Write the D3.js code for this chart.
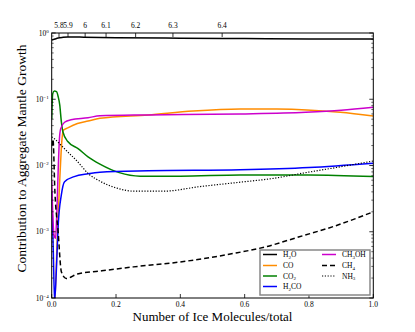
<!DOCTYPE html>
<html><head><meta charset="utf-8">
<script src="https://cdn.jsdelivr.net/npm/d3@7"></script>
<style>body{margin:0;background:#fff}svg{display:block}text{font-family:"Liberation Serif","DejaVu Serif",serif}</style>
</head><body><svg id="c" width="415" height="332"></svg>
<script>
// ---- data ----
const seriesNames = ["H2O","CO","CO2","H2CO","CH3OH","CH4","NH3"];
const h2oX = [0,0.01,0.02,0.035,0.05,0.1,0.2,0.4,0.6,0.8,1.0];
const h2oY = [0.78,0.81,0.84,0.86,0.87,0.865,0.85,0.835,0.825,0.815,0.81];
const coX = [0,0.01,0.018,0.025,0.032,0.036,0.05,0.08,0.113,0.15,0.3,0.44,0.586,0.7,0.793,0.897,1.0];
const coY = [0.00005,0.0001,0.001,0.006,0.025,0.034,0.037,0.043,0.047,0.0515,0.058,0.0665,0.0713,0.071,0.069,0.0635,0.0558];
const co2X = [0,0.003,0.008,0.015,0.02,0.025,0.03,0.035,0.05,0.082,0.113,0.15,0.21,0.275,0.4,0.586,0.8,1.0];
const co2Y = [0.05,0.12,0.133,0.13,0.11,0.082,0.046,0.032,0.023,0.018,0.0135,0.0105,0.0078,0.0069,0.0069,0.0072,0.0072,0.0068];
const h2coX = [0,0.005,0.009,0.015,0.02,0.03,0.04,0.07,0.113,0.15,0.3,0.586,0.8,1.0];
const h2coY = [0.004,0.0005,0.00009,0.0003,0.0012,0.0036,0.0057,0.0068,0.0075,0.0079,0.0083,0.0086,0.0093,0.0108];
const ch3ohX = [0,0.007,0.012,0.016,0.02,0.024,0.028,0.04,0.06,0.113,0.15,0.3,0.586,0.79,0.9,1.0];
const ch3ohY = [0.006,0.0009,0.0008,0.002,0.008,0.025,0.036,0.045,0.049,0.0525,0.0565,0.058,0.06,0.0635,0.068,0.0755];
const ch4X = [0,0.004,0.01,0.02,0.03,0.045,0.08,0.15,0.254,0.4,0.565,0.67,0.77,0.876,1.0];
const ch4Y = [0.02,0.025,0.004,0.001,0.00025,0.000197,0.00023,0.000255,0.000295,0.00035,0.00047,0.0006,0.00084,0.0012,0.002];
const nh3X = [0,0.01,0.03,0.05,0.08,0.113,0.15,0.2,0.254,0.35,0.46,0.586,0.69,0.79,0.9,1.0];
const nh3Y = [0.027,0.025,0.02,0.016,0.0115,0.0076,0.0058,0.0046,0.0041,0.0041,0.0048,0.0056,0.0064,0.0078,0.0096,0.0117];
const xTicks = [0,0.2,0.4,0.6,0.8,1.0];
const yTickExps = [0,-1,-2,-3,-4];
const topTickLabels = ["5.8","5.9","6","6.1","6.2","6.3","6.4"];
const topTickPos = [0.0227,0.0507,0.104,0.169,0.261,0.377,0.530];

const xs = [h2oX,coX,co2X,h2coX,ch3ohX,ch4X,nh3X];
const ys = [h2oY,coY,co2Y,h2coY,ch3ohY,ch4Y,nh3Y];
const colors = ["#000000","#ff8c00","#008000","#0000ff","#cc00cc","#000000","#000000"];
const dashes = [null,null,null,null,null,"5,3","1.2,1.6"];
const labels = [["H",["2"],"O"],["CO"],["CO",["2"]],["H",["2"],"CO"],["CH",["3"],"OH"],["CH",["4"]],["NH",["3"]]];

// ---- layout ----
const svg = d3.select("#c");
const L=51.7, R=373.3, T=33, B=298;
const x = d3.scaleLinear().domain([0,1]).range([L,R]);
const y = d3.scaleLog().domain([1e-4,1]).range([B,T]);

svg.append("defs").append("clipPath").attr("id","clip")
  .append("rect").attr("x",L).attr("y",T).attr("width",R-L).attr("height",B-T);

const g = svg.append("g").attr("clip-path","url(#clip)");
const line = d3.line().x(d=>x(d[0])).y(d=>y(d[1])).curve(d3.curveMonotoneX);
xs.forEach((xa,i)=>{
  const pts = xa.map((v,j)=>[v,ys[i][j]]);
  g.append("path").attr("d",line(pts)).attr("fill","none")
    .attr("stroke",colors[i]).attr("stroke-width",i===6?1.2:1.5)
    .attr("stroke-dasharray",dashes[i]);
});

// frame
svg.append("rect").attr("x",L).attr("y",T).attr("width",R-L).attr("height",B-T)
  .attr("fill","none").attr("stroke","#000").attr("stroke-width",1);

// y ticks (major + minor), both sides inward
const minor = [];
for(let e=-4;e<0;e++) for(let k=2;k<=9;k++) minor.push(k*Math.pow(10,e));
minor.forEach(v=>{
  svg.append("line").attr("x1",L).attr("x2",L+2).attr("y1",y(v)).attr("y2",y(v)).attr("stroke","#000").attr("stroke-width",0.6);
  svg.append("line").attr("x1",R).attr("x2",R-2).attr("y1",y(v)).attr("y2",y(v)).attr("stroke","#000").attr("stroke-width",0.6);
});
yTickExps.forEach(e=>{
  const v=Math.pow(10,e);
  svg.append("line").attr("x1",L).attr("x2",L+4).attr("y1",y(v)).attr("y2",y(v)).attr("stroke","#000").attr("stroke-width",0.8);
  svg.append("line").attr("x1",R).attr("x2",R-4).attr("y1",y(v)).attr("y2",y(v)).attr("stroke","#000").attr("stroke-width",0.8);
  const t = svg.append("text").attr("x",L-3).attr("y",y(v)+2.5).attr("text-anchor","end").attr("font-size",7.5);
  t.append("tspan").text("10");
  t.append("tspan").attr("dy",-3).attr("font-size",5).text(e===0?"0":"\u2212"+(-e));
});

// x ticks bottom
xTicks.forEach(v=>{
  svg.append("line").attr("x1",x(v)).attr("x2",x(v)).attr("y1",B).attr("y2",B-4).attr("stroke","#000").attr("stroke-width",0.8);
  svg.append("text").attr("x",x(v)).attr("y",B+8.5).attr("text-anchor","middle").attr("font-size",7.5).text(d3.format(".1f")(v));
});

// top ticks
topTickPos.forEach((p,i)=>{
  svg.append("line").attr("x1",x(p)).attr("x2",x(p)).attr("y1",T).attr("y2",T+4).attr("stroke","#000").attr("stroke-width",0.8);
  svg.append("text").attr("x",x(p)).attr("y",T-5).attr("text-anchor","middle").attr("font-size",7.5).text(topTickLabels[i]);
});

// axis labels
svg.append("text").attr("x",(L+R)/2).attr("y",321).attr("text-anchor","middle").attr("font-size",13)
  .text("Number of Ice Molecules/total");
svg.append("text").attr("transform",`translate(26,${(T+B)/2-7}) rotate(-90)`).attr("text-anchor","middle").attr("font-size",13.5)
  .text("Contribution to Aggregate Mantle Growth");

// legend
const lg = svg.append("g");
lg.append("rect").attr("x",260).attr("y",250).attr("width",110).attr("height",45)
  .attr("fill","#fff").attr("stroke","#888").attr("stroke-width",1.5);
const pos = [[263,254.5],[263,265.5],[263,276],[263,286.5],[322,254.5],[322,265.5],[322,276]];
const order = [0,1,2,3,4,5,6];
order.forEach((si,k)=>{
  const [lx,ly]=pos[k];
  lg.append("line").attr("x1",lx).attr("x2",lx+14).attr("y1",ly).attr("y2",ly)
    .attr("stroke",colors[si]).attr("stroke-width",si===6?1.2:1.5).attr("stroke-dasharray",dashes[si]);
  const t = lg.append("text").attr("x",lx+20).attr("y",ly+2.5).attr("font-size",7.5);
  let shifted = false;
  labels[si].forEach(part=>{
    if(Array.isArray(part)){
      t.append("tspan").attr("dy",1.8).attr("font-size",5).text(part[0]);
      shifted = true;
    } else {
      const s = t.append("tspan").text(part);
      if(shifted){ s.attr("dy",-1.8); shifted=false; }
    }
  });
});
</script></body></html>
